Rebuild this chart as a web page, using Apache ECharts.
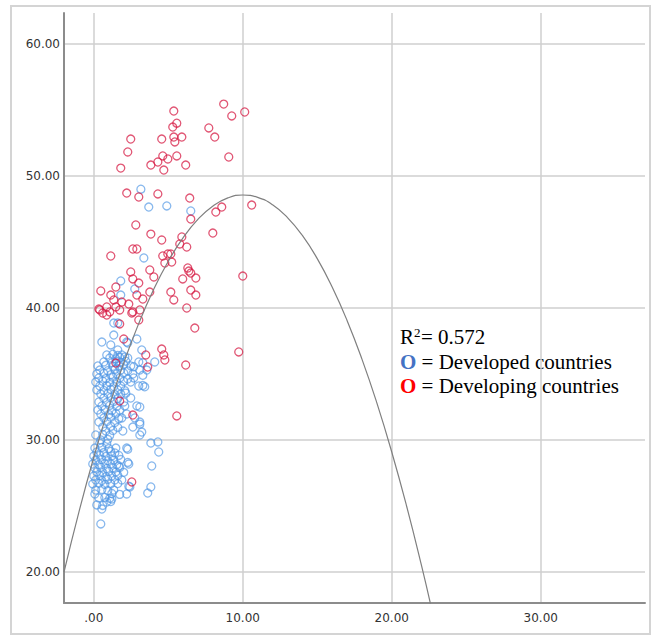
<!DOCTYPE html>
<html>
<head>
<meta charset="utf-8">
<script src="https://cdn.jsdelivr.net/npm/echarts@6/dist/echarts.min.js"></script>
<style>html,body{margin:0;padding:0;background:#fff}#c{width:656px;height:637px}</style>
</head>
<body>
<div id="c"></div>
<script>
const xTicks = [0, 10, 20, 30];
const yTicks = [20, 30, 40, 50, 60];
const legendLines = ['R', '2', '= 0.572', 'Developed countries', 'Developing countries'];

const developingPoints = [
[8.72,55.45],[10.13,54.85],[9.26,54.55],[7.72,53.64],[8.12,52.95],[9.06,51.44],[5.37,54.92],[5.57,54.0],
[5.30,53.71],[5.91,52.95],[5.37,52.95],[5.44,52.58],[4.56,52.8],[2.48,52.8],[2.28,51.82],[4.63,51.52],
[4.30,51.06],[4.97,51.29],[5.57,51.52],[3.83,50.83],[4.70,50.45],[6.17,50.83],[1.81,50.6],
[2.21,48.71],[3.02,48.41],[4.30,48.64],[6.44,48.33],[6.51,46.74],[8.59,47.65],[8.19,47.27],[10.6,47.8],
[2.82,46.29],[7.99,45.68],[3.83,45.6],[4.56,45.15],[5.91,45.38],[2.62,44.47],[2.89,44.47],[5.77,44.85],
[6.24,44.62],[1.14,43.94],[4.63,43.94],[4.97,44.09],[5.17,44.09],[4.77,43.41],[5.23,43.48],[2.48,42.73],
[3.76,42.88],[4.03,42.35],[2.62,42.2],[6.31,43.03],[6.38,42.8],[6.51,42.65],[5.97,42.2],[6.85,42.27],
[10.0,42.42],[3.02,41.89],[1.48,41.59],[0.47,41.29],[3.76,41.21],[5.17,41.21],[6.51,41.36],[6.85,40.98],
[1.14,40.98],[2.89,40.98],[3.29,40.68],[5.37,40.61],[1.34,40.61],[1.88,40.45],[0.87,40.08],[1.48,40.08],
[0.34,39.92],[2.35,40.3],[2.62,39.7],[3.09,39.85],[6.24,40.0],[0.6,39.62],[1.07,39.7],[0.4,39.85],
[0.87,39.47],[1.74,39.85],[2.55,39.62],[1.74,38.79],[3.02,39.09],[6.78,38.48],[2.01,37.65],[4.56,36.89],
[4.70,36.44],[4.77,36.06],[3.49,36.44],[3.62,35.53],[1.48,35.83],[6.17,35.68],[9.73,36.67],[1.74,32.95],
[2.62,31.89],[5.57,31.82],[2.55,26.82]
];

const developedPoints = [
[3.16,49.0],[3.69,47.65],[4.9,47.73],[6.51,47.35],[3.36,43.79],[1.81,42.05],[2.75,41.44],[1.81,40.98],
[1.34,38.86],[1.61,38.86],[1.34,37.95],[0.54,37.42],[1.14,37.2],[2.21,37.42],[2.89,37.65],[2.28,37.35],
[3.22,36.82],[1.61,36.82],[0.87,36.44],[1.28,36.5],[1.61,36.4],[1.88,36.44],[2.08,36.3],
[1.07,36.21],[1.48,36.15],[1.74,36.25],[2.28,36.21],
[0.67,35.91],[1.21,35.85],[1.54,35.95],[1.81,35.9],[2.15,35.97],[3.02,35.91],[3.29,35.85],[4.09,35.91],
[0.27,35.61],[0.81,35.66],[1.28,35.58],[1.68,35.61],[2.01,35.7],[2.48,35.61],[2.68,35.55],
[0.40,35.30],[0.94,35.25],[1.41,35.35],[1.81,35.30],[2.28,35.24],[3.09,35.30],[3.56,35.30],
[0.20,35.0],[0.67,35.05],[1.14,34.95],[1.54,35.0],[2.01,35.08],[2.62,35.0],[3.29,34.9],
[0.34,34.70],[0.81,34.65],[1.28,34.75],[1.74,34.70],[2.28,34.62],[2.68,34.70],
[0.13,34.39],[0.60,34.45],[1.07,34.35],[1.54,34.39],[2.01,34.44],[2.48,34.39],
[0.40,34.09],[0.87,34.12],[1.34,34.05],[1.81,34.09],[3.02,34.09],[3.29,34.13],[3.42,34.03],
[0.20,33.79],[0.67,33.75],[1.14,33.84],[1.61,33.79],[2.08,33.74],
[0.47,33.48],[0.94,33.52],[1.41,33.44],[1.81,33.48],[2.15,33.55],
[0.67,33.18],[1.14,33.22],[1.61,33.14],[2.48,33.18],
[0.34,32.88],[0.87,32.84],[1.34,32.92],[2.01,32.88],
[0.54,32.58],[1.07,32.62],[1.54,32.54],[2.08,32.58],[2.89,32.58],[3.09,32.5],
[0.27,32.27],[0.74,32.3],[1.21,32.22],[1.74,32.27],
[0.47,31.97],[1.01,31.93],[1.48,32.01],[2.21,31.97],
[0.67,31.67],[1.14,31.72],[1.68,31.62],[1.88,31.67],[2.75,31.67],
[0.34,31.36],[0.87,31.4],[1.41,31.32],[3.09,31.36],
[0.60,30.98],[1.14,31.03],[1.61,30.95],[2.62,30.98],[3.09,31.2],
[0.81,30.68],[1.28,30.72],[1.95,30.68],
[0.13,30.38],[0.60,30.42],[1.07,30.35],[3.09,30.38],[3.22,30.6],
[0.47,30.0],[0.94,30.05],
[3.83,29.77],[4.30,29.85],[0.40,29.77],[0.87,29.72],
[0.07,29.39],[0.54,29.44],[1.01,29.35],[1.48,29.39],[2.21,29.39],[2.28,29.3],
[0.20,29.09],[0.67,29.05],[1.14,29.13],[1.41,29.02],[4.36,29.09],
[0,28.79],[0.40,28.84],[0.81,28.75],[1.21,28.79],[1.68,28.83],
[0.13,28.48],[0.54,28.52],[0.94,28.44],[1.34,28.48],[1.81,28.52],[2.28,28.3],
[-0.07,28.18],[0.34,28.14],[0.74,28.22],[1.14,28.18],[1.54,28.13],[2.35,28.18],
[1.68,28.03],[3.89,28.03],
[0.07,27.88],[0.47,27.92],[0.87,27.84],[1.28,27.88],[1.74,27.92],
[0.20,27.58],[0.60,27.54],[1.01,27.62],[1.48,27.58],[2.01,27.55],
[0,27.27],[0.40,27.3],[0.81,27.22],[1.21,27.27],[1.61,27.32],
[0.13,26.97],[0.54,26.93],[0.94,27.01],[1.41,26.97],[1.88,26.97],
[-0.07,26.67],[0.34,26.72],[0.74,26.63],[1.14,26.67],[1.61,26.7],
[2.42,26.44],[3.83,26.44],[2.35,26.5],
[0.13,26.21],[0.54,26.25],[0.94,26.17],[1.34,26.21],
[0.07,25.91],[1.21,25.95],[1.74,25.88],[2.21,25.91],[3.62,25.98],
[0.34,25.61],[0.74,25.65],[1.07,25.58],[1.21,25.53],
[0.87,25.30],[1.14,25.34],[0.20,25.08],[0.60,25.04],[0.54,24.77],[0.47,23.64]
];

// quadratic fit curve
const curveX = [-2,-1,0,1,2,3,4,5,6,7,8,9,10,11,12,13,14,15,16,17,18,19,20,21,22,22.7];
const curveY = [19.99,24.54,28.69,32.45,35.81,38.78,41.36,43.54,45.33,46.73,47.73,48.34,48.56,48.38,47.82,46.85,45.50,43.74,41.59,39.06,36.13,32.81,29.09,24.98,20.48,17.09];

const chart = echarts.init(document.getElementById('c'), null, {renderer: 'svg'});
const labelFont = {color: '#333', fontSize: 12, fontFamily: 'DejaVu Sans'};
const serif = 'Liberation Serif';
chart.setOption({
  animation: false,
  backgroundColor: '#fff',
  grid: {left: 64, top: 13, right: 11, bottom: 34, containLabel: false},
  xAxis: {
    type: 'value', min: -2, max: 37,
    axisLine: {show: true, onZero: false, lineStyle: {color: '#8c8c8c', width: 2}},
    axisTick: {show: false, customValues: xTicks},
    axisLabel: Object.assign({customValues: xTicks, margin: 9,
      formatter: v => v === 0 ? '.00' : v.toFixed(2)}, labelFont),
    splitLine: {show: true, lineStyle: {color: '#cfcfcf', width: 1.5}}
  },
  yAxis: {
    type: 'value', min: 17.65, max: 62.35,
    axisLine: {show: true, onZero: false, lineStyle: {color: '#8c8c8c', width: 2}},
    axisTick: {show: false, customValues: yTicks},
    axisLabel: Object.assign({customValues: yTicks, margin: 4,
      formatter: v => v.toFixed(2)}, labelFont),
    splitLine: {show: true, lineStyle: {color: '#cfcfcf', width: 1.5}}
  },
  series: [
    {
      type: 'scatter', name: 'Developed countries', data: developedPoints,
      symbol: 'circle', symbolSize: 8,
      itemStyle: {color: 'rgba(0,0,0,0)', borderColor: 'rgba(80,150,228,0.85)', borderWidth: 1.3}
    },
    {
      type: 'scatter', name: 'Developing countries', data: developingPoints,
      symbol: 'circle', symbolSize: 8,
      itemStyle: {color: 'rgba(0,0,0,0)', borderColor: 'rgba(214,22,64,0.9)', borderWidth: 1.3}
    },
    {
      type: 'line', name: 'Fit', data: curveX.map((x, i) => [x, curveY[i]]),
      smooth: true, showSymbol: false, symbol: 'none', clip: true,
      lineStyle: {color: '#7f7f7f', width: 1.2}, z: 5
    }
  ],
  graphic: [
    {type: 'rect', shape: {x: 11, y: 6, width: 639, height: 628}, silent: true,
      style: {fill: 'none', stroke: '#d4d4d4', lineWidth: 2}},
    {type: 'text', x: 400, y: 337, style: {text: legendLines[0], font: '21px "' + serif + '"', fill: '#000', verticalAlign: 'middle'}},
    {type: 'text', x: 414, y: 332, style: {text: legendLines[1], font: '13px "' + serif + '"', fill: '#000', verticalAlign: 'middle'}},
    {type: 'text', x: 421, y: 337, style: {text: legendLines[2], font: '21px "' + serif + '"', fill: '#000', verticalAlign: 'middle'}},
    {type: 'text', x: 400, y: 362, style: {
      text: '{b|O}{t| = ' + legendLines[3] + '}', verticalAlign: 'middle',
      rich: {b: {fontFamily: serif, fontSize: 21, fontWeight: 'bold', fill: '#4472c4', color: '#4472c4'},
             t: {fontFamily: serif, fontSize: 21, fill: '#000', color: '#000'}}}},
    {type: 'text', x: 400, y: 386, style: {
      text: '{b|O}{t| = ' + legendLines[4] + '}', verticalAlign: 'middle',
      rich: {b: {fontFamily: serif, fontSize: 21, fontWeight: 'bold', fill: '#ff0000', color: '#ff0000'},
             t: {fontFamily: serif, fontSize: 21, fill: '#000', color: '#000'}}}}
  ]
});
</script>
</body>
</html>
